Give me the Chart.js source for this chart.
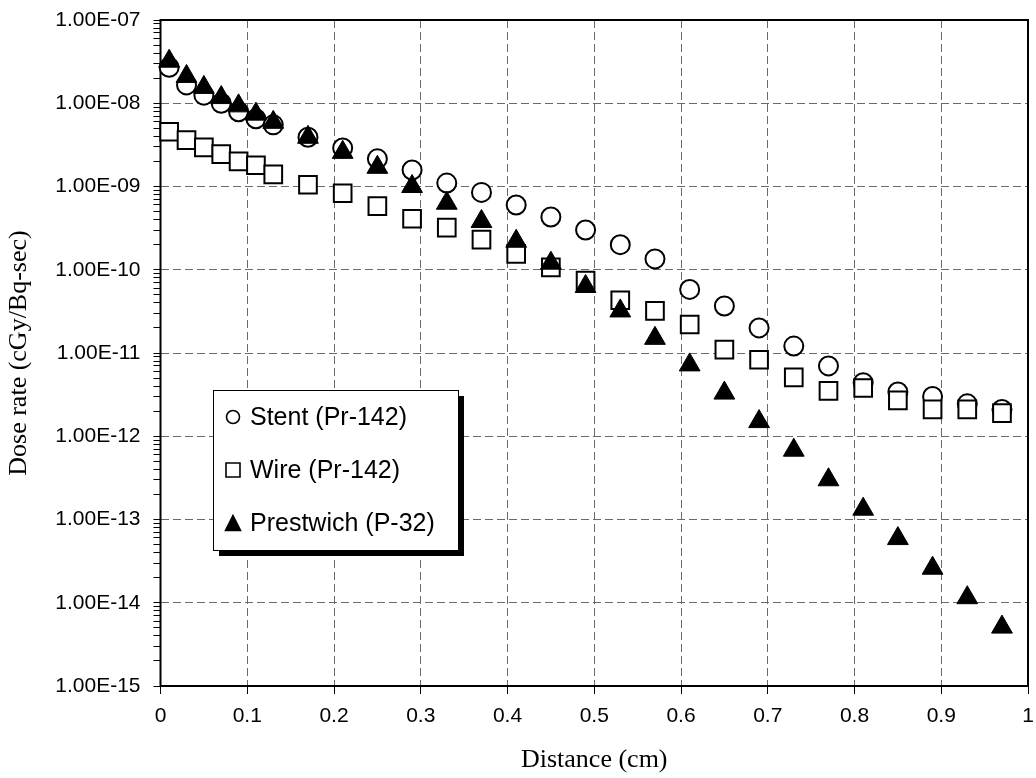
<!DOCTYPE html>
<html>
<head>
<meta charset="utf-8">
<script src="https://cdn.jsdelivr.net/npm/chart.js@4/dist/chart.umd.min.js"></script>
<style>
html,body{margin:0;padding:0;background:#fff;}
#wrap{width:1036px;height:778px;}
</style>
</head>
<body>
<div id="wrap"><canvas id="c" width="1036" height="778"></canvas></div>
<script>
// ---- data ----
const distances = [0.01,0.03,0.05,0.07,0.09,0.11,0.13,0.17,0.21,0.25,0.29,0.33,0.37,0.41,0.45,0.49,0.53,0.57,0.61,0.65,0.69,0.73,0.77,0.81,0.85,0.89,0.93,0.97];
const stentPr142 = [2.7e-8,1.66e-8,1.25e-8,1.0e-8,7.9e-9,6.5e-9,5.5e-9,3.9e-9,2.9e-9,2.15e-9,1.58e-9,1.1e-9,8.5e-10,6.0e-10,4.3e-10,3.0e-10,2.0e-10,1.35e-10,5.8e-11,3.67e-11,2.0e-11,1.21e-11,7.0e-12,4.4e-12,3.4e-12,3.0e-12,2.45e-12,2.1e-12];
const wirePr142 = [4.55e-9,3.6e-9,2.95e-9,2.45e-9,2.0e-9,1.8e-9,1.4e-9,1.05e-9,8.3e-10,5.8e-10,4.1e-10,3.2e-10,2.3e-10,1.55e-10,1.07e-10,7.4e-11,4.3e-11,3.2e-11,2.2e-11,1.1e-11,8.3e-12,5.1e-12,3.5e-12,3.8e-12,2.7e-12,2.1e-12,2.1e-12,1.9e-12];
const prestwichP32 = [3.2e-8,2.1e-8,1.55e-8,1.17e-8,9.3e-9,7.4e-9,5.9e-9,3.9e-9,2.57e-9,1.7e-9,1.0e-9,6.3e-10,3.8e-10,2.2e-10,1.2e-10,6.3e-11,3.2e-11,1.5e-11,7.2e-12,3.3e-12,1.5e-12,6.8e-13,3.0e-13,1.33e-13,5.9e-14,2.6e-14,1.15e-14,5.1e-15];
const seriesLabels = ['Stent (Pr-142)','Wire (Pr-142)','Prestwich (P-32)'];
const yTickExponents = [-15,-14,-13,-12,-11,-10,-9,-8,-7];
const yTickLabels = ['1.00E-15','1.00E-14','1.00E-13','1.00E-12','1.00E-11','1.00E-10','1.00E-09','1.00E-08','1.00E-07'];
const xTickLabels = ['0','0.1','0.2','0.3','0.4','0.5','0.6','0.7','0.8','0.9','1'];
const xTitle = 'Distance (cm)';
const yTitle = 'Dose rate (cGy/Bq-sec)';

const pts = arr => distances.map((x,i)=>({x:x,y:arr[i]}));
const isMajorVal = v => Math.abs(Math.log10(v) - Math.round(Math.log10(v))) < 1e-9;
const noPad = s => { s.paddingTop = 0; s.paddingBottom = 0; s.paddingLeft = 0; s.paddingRight = 0; };

const framePlugin = {
  id:'frame',
  beforeDatasetsDraw(chart){
    const a = chart.chartArea, ctx = chart.ctx;
    ctx.save();
    ctx.strokeStyle = '#000'; ctx.lineWidth = 2;
    ctx.strokeRect(a.left, a.top, a.right-a.left, a.bottom-a.top);
    ctx.restore();
  }
};

function drawMarker(ctx, style, x, y, s){
  ctx.save();
  ctx.strokeStyle = '#000';
  ctx.fillStyle = '#fff';
  ctx.lineWidth = 1.6;
  ctx.beginPath();
  if (style === 'circle'){
    ctx.arc(x, y, s/2, 0, Math.PI*2);
    ctx.fill(); ctx.stroke();
  } else if (style === 'rect'){
    ctx.rect(x-s/2, y-s/2, s, s);
    ctx.fill(); ctx.stroke();
  } else {
    ctx.fillStyle = '#000';
    ctx.moveTo(x, y - s/2);
    ctx.lineTo(x + s/2, y + s/2);
    ctx.lineTo(x - s/2, y + s/2);
    ctx.closePath();
    ctx.fill(); ctx.stroke();
  }
  ctx.restore();
}

const legendPlugin = {
  id:'boxLegend',
  afterDraw(chart){
    const ctx = chart.ctx;
    const bx = 213, by = 390, bw = 245, bh = 160;
    ctx.save();
    ctx.fillStyle = '#000';
    ctx.fillRect(bx+6, by+6, bw, bh);
    ctx.fillStyle = '#fff';
    ctx.fillRect(bx, by, bw, bh);
    ctx.strokeStyle = '#000'; ctx.lineWidth = 1;
    ctx.strokeRect(bx+0.5, by+0.5, bw, bh);
    ctx.font = '25px "Liberation Sans", Arial, sans-serif';
    ctx.fillStyle = '#000';
    ctx.textBaseline = 'middle';
    ctx.textAlign = 'left';
    const rows = [417, 470, 523];
    chart.data.datasets.forEach((ds, i) => {
      drawMarker(ctx, ds.pointStyle, 233, rows[i], i===0?13:(i===1?14:15));
      ctx.fillStyle = '#000';
      ctx.fillText(ds.label, 250, rows[i]+1);
    });
    ctx.restore();
  }
};

new Chart(document.getElementById('c'), {
  type:'scatter',
  data:{
    datasets:[
      {label:seriesLabels[0], data:pts(stentPr142), pointStyle:'circle', pointRadius:9.5, pointHoverRadius:9.5,
       backgroundColor:'#fff', borderColor:'#000', borderWidth:2, order:3, clip:false},
      {label:seriesLabels[1], data:pts(wirePr142), pointStyle:'rect', pointRadius:12.5, pointHoverRadius:12.5,
       backgroundColor:'#fff', borderColor:'#000', borderWidth:2, order:2, clip:false},
      {label:seriesLabels[2], data:pts(prestwichP32), pointStyle:'triangle', pointRadius:12, pointHoverRadius:12,
       backgroundColor:'#000', borderColor:'#000', borderWidth:1, order:1, clip:false}
    ]
  },
  options:{
    responsive:false,
    animation:false,
    events:[],
    layout:{autoPadding:false, padding:{left:4, right:8, top:20, bottom:2}},
    plugins:{legend:{display:false}, tooltip:{enabled:false}},
    scales:{
      x:{
        type:'linear', min:0, max:1,
        afterFit(s){ s.height = 90; noPad(s); },
        ticks:{stepSize:0.1, color:'#000', padding:10, maxRotation:0, autoSkip:false,
          font:{family:'"Liberation Sans", Arial, sans-serif', size:21},
          callback:(v,i)=>xTickLabels[i]},
        grid:{color:(c)=> (c.tick && c.tick.value>0.001 && c.tick.value<0.999) ? '#6a6a6a' : 'rgba(0,0,0,0)',
          lineWidth:1, tickColor:'#000', tickLength:8, tickBorderDash:[]},
        border:{display:false, dash:[8,4]},
        title:{display:true, text:xTitle, color:'#000', padding:{top:0,bottom:0},
          font:{family:'"Liberation Serif", "Times New Roman", serif', size:26, weight:'normal'}}
      },
      y:{
        type:'logarithmic', min:1e-15, max:1e-7,
        afterFit(s){ s.width = 156.5; noPad(s); },
        afterBuildTicks(s){
          const t = [];
          yTickExponents.forEach(e => {
            t.push({value:Math.pow(10,e)});
            if (e < -7) for (let m=2;m<=9;m++) t.push({value:m*Math.pow(10,e)});
          });
          s.ticks = t;
        },
        ticks:{color:'#000', padding:13, autoSkip:false,
          font:{family:'"Liberation Sans", Arial, sans-serif', size:21},
          callback:(v)=>{ if(!isMajorVal(v)) return ''; const e=Math.round(Math.log10(v)); return yTickLabels[yTickExponents.indexOf(e)]; }},
        grid:{color:(c)=> (c.tick && isMajorVal(c.tick.value) && c.tick.value>1.5e-15 && c.tick.value<0.7e-7) ? '#6a6a6a' : 'rgba(0,0,0,0)',
          lineWidth:1, tickColor:'#000', tickLength:7, tickBorderDash:[]},
        border:{display:false, dash:[8,4]},
        title:{display:true, text:yTitle, color:'#000', padding:{top:0,bottom:0},
          font:{family:'"Liberation Serif", "Times New Roman", serif', size:26, weight:'normal'}}
      }
    }
  },
  plugins:[framePlugin, legendPlugin]
});
</script>
</body>
</html>
